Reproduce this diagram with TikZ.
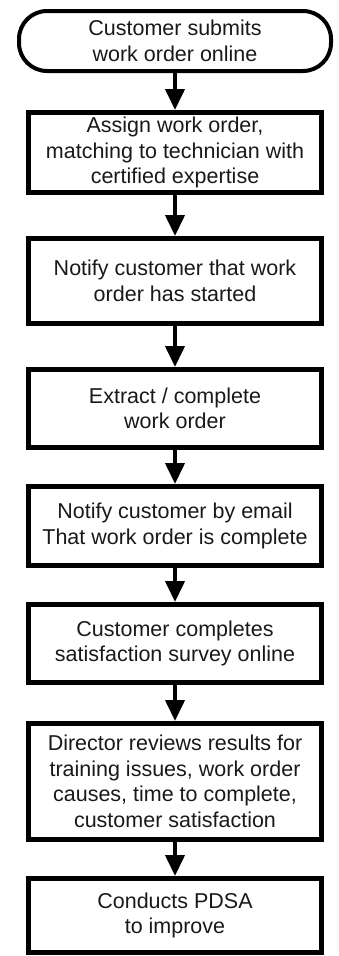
\documentclass[tikz,border=0pt]{standalone}
\usepackage{fontspec}
\setmainfont{Liberation Sans}
\usetikzlibrary{arrows.meta}
\begin{document}
\begin{tikzpicture}[x=1pt,y=-1pt,
  every node/.style={font=\fontsize{21.5pt}{25.5pt}\selectfont, text=black!90, align=center, inner sep=0pt},
  procbox/.style={draw=black, line width=5pt, rectangle, minimum width=293pt},
  termbox/.style={draw=black, line width=4pt, rectangle, rounded corners=28pt, minimum width=312pt, minimum height=60pt},
  flow/.style={draw=black, line width=4pt, -{Triangle[length=21pt,width=19pt]}}]
\useasboundingbox (0,0) rectangle (339,956);
\node[termbox] (t) at (175,41) {Customer submits\\work order online};
\node[procbox, minimum height=80pt] (b1) at (175,152.5) {Assign work order,\\matching to technician with\\certified expertise};
\node[procbox, minimum height=85pt] (b2) at (175,281) {Notify customer that work\\order has started};
\node[procbox, minimum height=78pt] (b3) at (175,408.5) {Extract / complete\\work order};
\node[procbox, minimum height=79pt] (b4) at (175,526) {Notify customer by email\\That work order is complete};
\node[procbox, minimum height=78pt] (b5) at (175,643.5) {Customer completes\\satisfaction survey online};
\node[procbox, minimum height=116pt] (b6) at (175,781.5) {Director reviews results for\\training issues, work order\\causes, time to complete,\\customer satisfaction};
\node[procbox, minimum height=74pt] (b7) at (175,915.5) {Conducts PDSA\\to improve};
\draw[flow] (t.south) -- (b1.north);
\draw[flow] (b1.south) -- (b2.north);
\draw[flow] (b2.south) -- (b3.north);
\draw[flow] (b3.south) -- (b4.north);
\draw[flow] (b4.south) -- (b5.north);
\draw[flow] (b5.south) -- (b6.north);
\draw[flow] (b6.south) -- (b7.north);
\end{tikzpicture}
\end{document}
